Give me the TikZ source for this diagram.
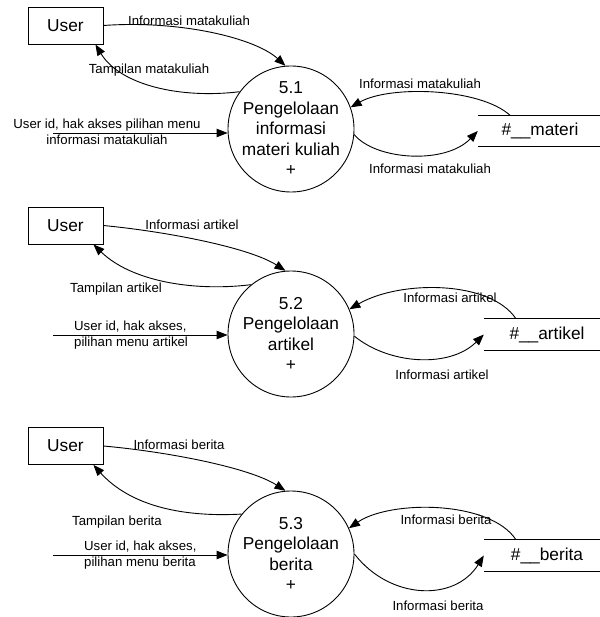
\documentclass[tikz,border=0pt]{standalone}
\usepackage{fontspec}
\setmainfont{Liberation Sans}
\usetikzlibrary{arrows.meta}

\begin{document}
\begin{tikzpicture} [
			x=1pt, y=-1pt,
			entity/.style={rectangle, draw, line width=0.9pt, minimum width=75pt, minimum height=37pt, inner sep=0pt, font=\fontsize{17.3}{20}\selectfont},
			proc/.style={circle, draw, line width=0.9pt, minimum size=126pt, inner sep=0pt},
			ptext/.style={align=center, inner sep=0pt, font=\fontsize{17.3}{20.5}\selectfont},
			store/.style={minimum height=31pt, inner sep=0pt, font=\fontsize{17.3}{20}\selectfont},
			storeline/.style={line width=0.9pt},
			flow/.style={line width=0.9pt, -{Triangle[length=11pt, width=8.5pt]}},
			lbl/.style={inner sep=0pt, font=\fontsize{13.2}{15}\selectfont}
		]
		\useasboundingbox (0,0) rectangle (599,617);

		% 5.1
		\node[entity] (user1) at (65.5,25.5) {User};
		\node[proc, label={[ptext]center:{5.1\\Pengelolaan\\informasi\\materi kuliah\\+}}] (proc1) at (291,129) {};
		\node[store, minimum width=124pt] (st1) at (540,131) {\#\_\_materi};
		\draw[storeline] (st1.north west) -- (st1.north east) (st1.south west) -- (st1.south east);
		\coordinate (in1) at (53,133);

		\draw[flow] (user1.east) .. controls (180,20) and (255,38) .. (proc1.95);
		\node[lbl] (l1a) at (189,21) {Informasi matakuliah};
		\draw[flow] (proc1.144) .. controls (180,99) and (120,85) .. ([xshift=-8pt]user1.south east);
		\node[lbl] (l1b) at (149,70) {Tampilan matakuliah};
		\draw[flow] (in1) -- (in1 -| proc1.west);
		\node[lbl, align=center, font=\fontsize{13.2}{15.5}\selectfont] (l1c) at (107,132) {User id, hak akses pilihan menu\\informasi matakuliah};
		\draw[flow] ([xshift=-30pt]st1.north) .. controls (480,88) and (390,85) .. (proc1.20);
		\node[lbl] (l1d) at (420,84) {Informasi matakuliah};
		\draw[flow] (proc1.-5) .. controls (375,160) and (445,165) .. (st1.west);
		\node[lbl] (l1e) at (430,169) {Informasi matakuliah};

		% 5.2
		\node[entity] (user2) at (65.5,225.5) {User};
		\node[proc, label={[ptext]center:{5.2\\Pengelolaan\\artikel\\+}}] (proc2) at (291,334) {};
		\node[store, minimum width=126pt] (st2) at (547,334.5) {\#\_\_artikel};
		\draw[storeline] (st2.north west) -- (st2.north east) (st2.south west) -- (st2.south east);
		\coordinate (in2) at (53,335);

		\draw[flow] (user2.east) .. controls (170,232) and (250,248) .. (proc2.95);
		\node[lbl] (l2a) at (192,225) {Informasi artikel};
		\draw[flow] (proc2.129) .. controls (190,292) and (130,280) .. ([xshift=-10pt]user2.south east);
		\node[lbl] (l2b) at (116,289) {Tampilan artikel};
		\draw[flow] (in2) -- (in2 -| proc2.west);
		\node[lbl, align=left, anchor=west, font=\fontsize{13.2}{16}\selectfont] (l2c) at (74,335) {User id, hak akses,\\pilihan menu artikel};
		\draw[flow] ([xshift=-31pt]st2.north) .. controls (490,280) and (400,280) .. (proc2.23);
		\node[lbl] (l2d) at (450,298) {Informasi artikel};
		\draw[flow] (proc2.-2) .. controls (390,365) and (450,368) .. (st2.west);
		\node[lbl] (l2e) at (442,375) {Informasi artikel};

		% 5.3
		\node[entity] (user3) at (65.5,446) {User};
		\node[proc, label={[ptext]center:{5.3\\Pengelolaan\\berita\\+}}] (proc3) at (291,554) {};
		\node[store, minimum width=126pt] (st3) at (547,555.5) {\#\_\_berita};
		\draw[storeline] (st3.north west) -- (st3.north east) (st3.south west) -- (st3.south east);
		\coordinate (in3) at (53,555);

		\draw[flow] (user3.east) .. controls (170,452) and (250,468) .. (proc3.95);
		\node[lbl] (l3a) at (179,445) {Informasi berita};
		\draw[flow] (proc3.141) .. controls (170,518) and (125,500) .. ([xshift=-10pt]user3.south east);
		\node[lbl] (l3b) at (117,522) {Tampilan berita};
		\draw[flow] (in3) -- (in3 -| proc3.west);
		\node[lbl, align=left, anchor=west, font=\fontsize{13.2}{16}\selectfont] (l3c) at (84,555) {User id, hak akses,\\pilihan menu berita};
		\draw[flow] ([xshift=-31pt]st3.north) .. controls (490,500) and (390,500) .. (proc3.24);
		\node[lbl] (l3d) at (446,520) {Informasi berita};
		\draw[flow] (proc3.0) .. controls (390,600) and (455,602) .. (st3.west);
		\node[lbl] (l3e) at (438,606) {Informasi berita};
	\end{tikzpicture}
\end{document}
